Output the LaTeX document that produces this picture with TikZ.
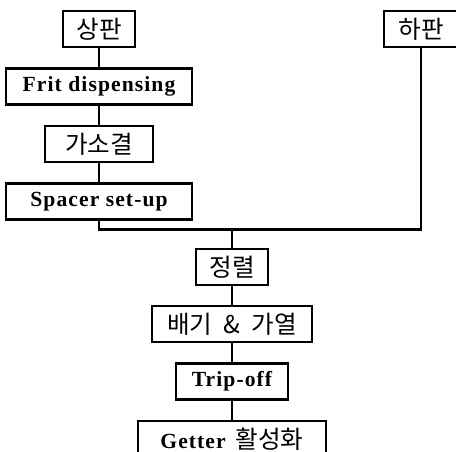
\documentclass[tikz,border=0pt]{standalone}
\usepackage{fontspec}
\setmainfont{Liberation Serif}
\newfontfamily\krfont{Noto Sans CJK KR}
\newfontfamily\enfont[LetterSpace=5]{Liberation Serif}
\usepackage{tikz}
\usetikzlibrary{positioning}

\newcommand{\kr}[1]{{\krfont\fontsize{12.3}{14}\selectfont #1}}
\newcommand{\en}[1]{{\enfont\bfseries\fontsize{10.8}{12}\selectfont #1}}

\begin{document}
\begin{tikzpicture}[
  line width=1.2pt, node distance=9.5pt,
  stepbox/.style={draw,minimum height=18pt,inner sep=2pt}
]
\useasboundingbox (0,0) rectangle (228pt,-225.5pt);
\clip (0,0) rectangle (228pt,-225.5pt);
% left column: upper plate
\node[stepbox,minimum width=36pt,anchor=north] (sang) at (49.5pt,-5pt) {\kr{상판}};
\node[stepbox,minimum width=93pt,below=of sang] (frit) {\en{Frit dispensing}};
\node[stepbox,minimum width=54pt,below=of frit] (gaso) {\kr{가소결}};
\node[stepbox,minimum width=93pt,below=of gaso] (spacer) {\en{Spacer set-up}};
% right: lower plate
\node[stepbox,minimum width=37pt,anchor=north] (ha) at (210.5pt,-5pt) {\kr{하판}};
% joined column
\node[stepbox,minimum width=36pt,below=13.5pt of spacer,xshift=66.5pt] (jeong) {\kr{정렬}};
\node[stepbox,minimum width=80pt,below=of jeong] (baegi) {\kr{배기 \ \& \ 가열}};
\node[stepbox,minimum width=56pt,below=of baegi] (trip) {\en{Trip-off}};
\node[stepbox,minimum width=94pt,below=of trip] (getter) {\en{Getter}\ \ \kr{활성화}};

\draw (sang) -- (frit);
\draw (frit) -- (gaso);
\draw (gaso) -- (spacer);
\draw (spacer.south) -- ++(0,-4.5pt) coordinate (bus) -| (ha.south);
\draw (bus -| jeong.north) -- (jeong.north);
\draw (jeong) -- (baegi);
\draw (baegi) -- (trip);
\draw (trip) -- (getter);
\end{tikzpicture}
\end{document}
